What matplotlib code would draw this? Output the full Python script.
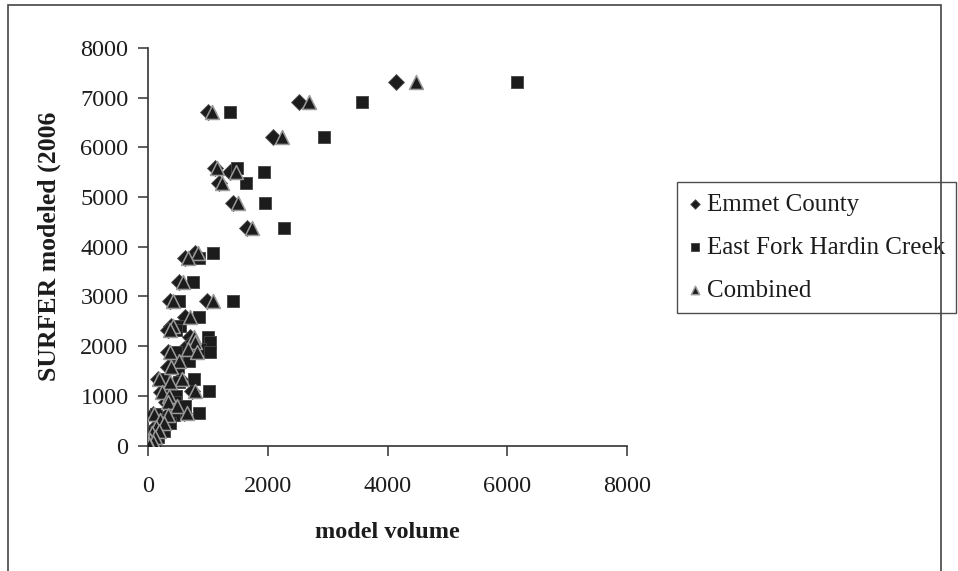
"""
Scatter of SURFER modeled volume vs. model volume for three data sets
"""
import matplotlib.pyplot as plt
import matplotlib.patches as patches

# SURFER modeled (2006) values, shared by all three series
surfer_vals = [7320, 6920, 6720, 6210, 5580, 5500, 5280, 4880, 4370, 3880,
               3780, 3300, 2900, 2900, 2580, 2400, 2320, 2180, 2080, 1950,
               1880, 1880, 1710, 1580, 1340, 1330, 1280, 1100, 1070, 1000,
               870, 800, 650, 640, 620, 520, 450, 380, 300, 250,
               180, 120, 80, 40, 10]
# model volume for each series
emmet_x = [4150, 2530, 1000, 2085, 1120, 1370, 1180, 1420, 1650, 790,
           610, 520, 370, 985, 620, 390, 330, 700, 740, 600,
           340, 760, 480, 340, 160, 530, 330, 730, 210, 320,
           300, 450, 600, 80, 310, 180, 240, 110, 170, 60,
           100, 30, 70, 10, 20]
combined_x = [4480, 2690, 1070, 2230, 1150, 1470, 1230, 1500, 1740, 830,
              670, 590, 410, 1080, 700, 420, 370, 760, 790, 670,
              370, 820, 520, 380, 180, 560, 370, 790, 240, 350,
              330, 480, 650, 100, 340, 200, 270, 130, 190, 70,
              120, 40, 80, 15, 25]
eastfork_x = [6170, 3570, 1370, 2935, 1490, 1930, 1630, 1960, 2270, 1090,
              850, 750, 520, 1420, 860, 530, 470, 1010, 1040, 870,
              470, 1040, 680, 500, 240, 760, 520, 1020, 330, 470,
              450, 620, 850, 140, 440, 280, 360, 180, 260, 100,
              160, 60, 110, 20, 35]

plt.rcParams['font.family'] = ['Liberation Serif', 'DejaVu Serif']
ink = '#1c1c1c'

fig = plt.figure(figsize=(9.58, 5.71), dpi=100)
ax = fig.add_axes([148/958, 1-445.5/571, (627-148)/958, (445.5-48)/571])

ax.scatter(emmet_x, surfer_vals, marker='D', s=66, color=ink,
           edgecolors='#555555', linewidths=0.6, label='Emmet County', zorder=3)
ax.scatter(eastfork_x, surfer_vals, marker='s', s=84, color=ink,
           edgecolors='#444444', linewidths=0.6, label='East Fork Hardin Creek', zorder=3)
ax.scatter(combined_x, surfer_vals, marker='^', s=100, color=ink,
           edgecolors='#9a9a9a', linewidths=1.1, label='Combined', zorder=4)

ax.set_xlim(0, 8000)
ax.set_ylim(0, 8000)
ax.set_xticks(range(0, 8001, 2000))
ax.set_yticks(range(0, 8001, 1000))
for s in ['top', 'right']:
    ax.spines[s].set_visible(False)
for s in ['left', 'bottom']:
    ax.spines[s].set_color('#333333')
    ax.spines[s].set_linewidth(1.2)
ax.tick_params(direction='out', length=7, width=1.1, color='#333333',
               labelsize=17.5, labelcolor=ink)
ax.tick_params(axis='y', pad=7)
ax.tick_params(axis='x', pad=15)

ax.set_xlabel('model volume', fontsize=17.5, fontweight='bold', color=ink, labelpad=18)
ax.set_ylabel('SURFER modeled (2006', fontsize=18.5, fontweight='bold', color=ink, labelpad=14)

leg = ax.legend(loc='upper left', bbox_to_anchor=(677/958, 1-182/571),
                bbox_transform=fig.transFigure, fontsize=18, frameon=True,
                fancybox=False, edgecolor='#222222', markerscale=0.6,
                handletextpad=0.2, handlelength=0.55, labelspacing=0.82,
                borderpad=0.45, borderaxespad=0)
leg.get_frame().set_linewidth(1.0)
for t in leg.get_texts():
    t.set_color(ink)

# outer chart border
fig.patches.append(patches.Rectangle((8/958, -0.02), (941-8)/958, 1.02-5/571,
                                     transform=fig.transFigure, fill=False,
                                     edgecolor='#444444', linewidth=1.2))

plt.savefig('out.png', dpi=100)
